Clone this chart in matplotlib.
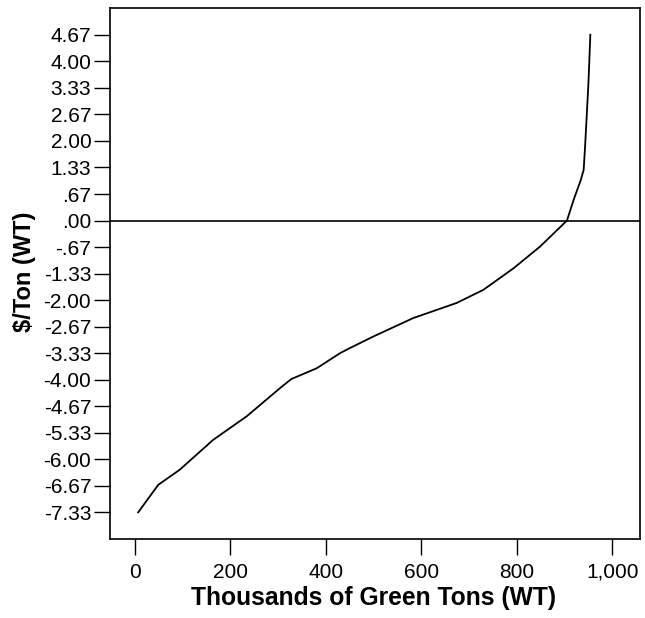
import matplotlib
matplotlib.use("Agg")
import matplotlib.pyplot as plt

plt.rcParams['font.family'] = ['Liberation Sans', 'DejaVu Sans']

# Curve data (thousands of green tons vs $/ton)
x_vals = [7, 49, 94, 164, 234, 307, 328, 381, 430, 451, 500, 583, 674, 730, 793, 849, 905, 919, 934, 940, 943, 950, 954]
y_vals = [-7.33, -6.64, -6.26, -5.51, -4.92, -4.18, -3.98, -3.71, -3.33, -3.20, -2.91, -2.45, -2.07, -1.74, -1.20, -0.65, 0.0, 0.52, 1.02, 1.27, 1.86, 3.45, 4.67]

y_tick_vals = [4.6667, 4.0, 3.3333, 2.6667, 2.0, 1.3333, 0.6667, 0.0, -0.6667, -1.3333, -2.0,
               -2.6667, -3.3333, -4.0, -4.6667, -5.3333, -6.0, -6.6667, -7.3333]
y_tick_labels = ["4.67", "4.00", "3.33", "2.67", "2.00", "1.33", ".67", ".00", "-.67", "-1.33", "-2.00",
                 "-2.67", "-3.33", "-4.00", "-4.67", "-5.33", "-6.00", "-6.67", "-7.33"]
x_tick_vals = [0, 200, 400, 600, 800, 1000]
x_tick_labels = ["0", "200", "400", "600", "800", "1,000"]

W, H = 645, 618
fig = plt.figure(figsize=(W/100, H/100), dpi=100)
ax = fig.add_axes([110/W, 1-539/H, 530/W, 531/H])

ax.plot(x_vals, y_vals, color='black', lw=1.3)
ax.axhline(0, color='black', lw=1.2)

ax.set_xlim(-52, 1058)
ax.set_ylim(-8.0, 5.34)

ax.set_yticks(y_tick_vals)
ax.set_yticklabels(y_tick_labels)
ax.set_xticks(x_tick_vals)
ax.set_xticklabels(x_tick_labels)

ax.tick_params(axis='y', direction='out', length=11.5, width=1.0, pad=2, labelsize=15)
ax.tick_params(axis='x', direction='out', length=11.5, width=1.0, pad=5.5, labelsize=15)

for s in ax.spines.values():
    s.set_linewidth(1.2)

fig.text(374/W, 1-605/H, "Thousands of Green Tons (WT)", fontsize=17.7, fontweight='bold',
         ha='center', va='baseline')
fig.text(24/W, 1-271.5/H, "$/Ton (WT)", fontsize=17, fontweight='bold',
         ha='center', va='center', rotation=90)

fig.savefig("out.png", dpi=100)
